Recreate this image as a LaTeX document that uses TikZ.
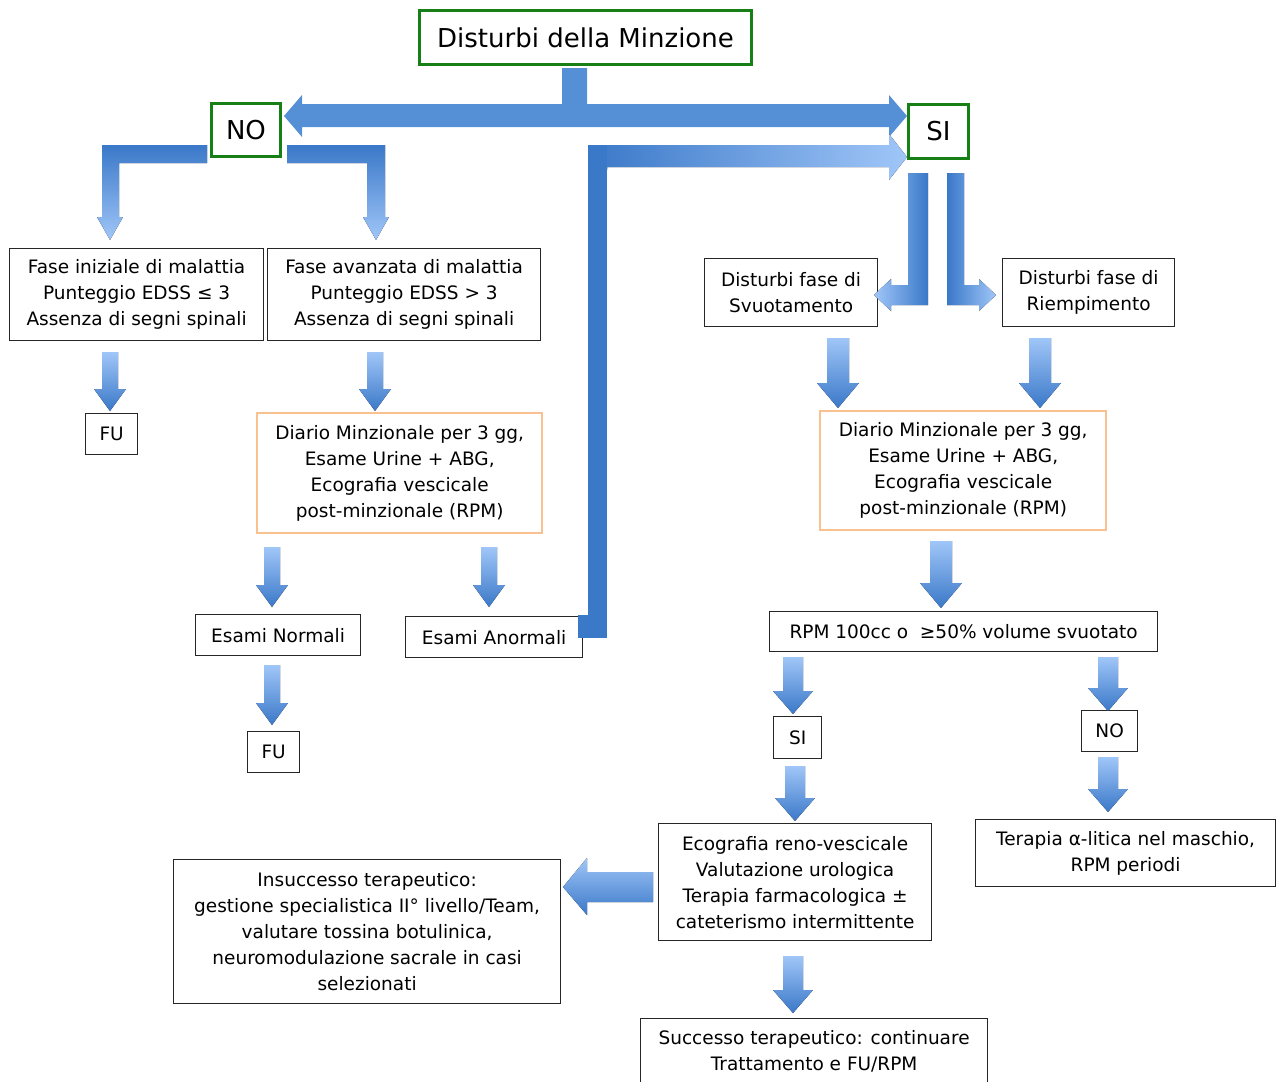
\documentclass[tikz,border=0pt]{standalone}
\usepackage{fontspec}
\setmainfont{DejaVu Sans}
\definecolor{bdark}{RGB}{58,120,200}
\definecolor{blight}{RGB}{160,198,248}
\definecolor{bmid}{RGB}{85,144,214}
\definecolor{gbord}{RGB}{22,128,22}
\definecolor{obord}{RGB}{249,192,144}
\newcommand\bodyfont{\fontsize{18.5}{26}\selectfont}
% down arrow: x, ytop, ytip, half body, half head, head length
\newcommand\darr[6]{%
  \fill[varr] ({#1-#4},#2) -- ({#1+#4},#2) -- ({#1+#4},{#3-#6}) -- ({#1+#5},{#3-#6})
    -- (#1,#3) -- ({#1-#5},{#3-#6}) -- ({#1-#4},{#3-#6}) -- cycle;}
\tikzset{
  box/.style={draw=black!85, line width=1.2pt, fill=white, align=center, font=\bodyfont,
    inner sep=0pt, anchor=north west, text=black},
  obox/.style={box, draw=obord, line width=2.4pt},
  gbox/.style={box, draw=gbord, line width=3pt, font=\fontsize{26}{30}\selectfont},
  varr/.style={top color=blight, bottom color=bdark, draw=none},
}
\begin{document}
\begin{tikzpicture}[x=1pt,y=-1pt]
\useasboundingbox (0,0) rectangle (1276,1081);
\fill[white] (0,0) rectangle (1276,1081);

% ---- nodes ----
\node[gbox, minimum width=332pt, minimum height=54pt] (title) at (418,9) {Disturbi della Minzione};
\node[gbox, minimum width=69pt, minimum height=53pt] (no) at (210,102) {NO};
\node[gbox, minimum width=60pt, minimum height=54pt] (si) at (907,103) {SI};

\node[box, minimum width=254pt, minimum height=92pt] (fa) at (9,248) {Fase iniziale di malattia\\Punteggio EDSS ≤ 3\\Assenza di segni spinali};
\node[box, minimum width=273pt, minimum height=92pt] (fb) at (267,248) {Fase avanzata di malattia\\Punteggio EDSS > 3\\Assenza di segni spinali};
\node[box, minimum width=52pt, minimum height=41pt] (fu1) at (85,413) {FU};
\node[obox, minimum width=285pt, minimum height=120pt] (dl) at (256,412) {Diario Minzionale per 3 gg,\\Esame Urine + ABG,\\Ecografia vescicale\\post-minzionale (RPM)};
\node[box, minimum width=165pt, minimum height=41pt] (en) at (195,614) {Esami Normali};
\node[box, minimum width=177pt, minimum height=41pt] (ea) at (405,616) {Esami Anormali};
\node[box, minimum width=52pt, minimum height=41pt] (fu2) at (247,731) {FU};

\node[box, minimum width=173pt, minimum height=68pt] (sv) at (704,258) {Disturbi fase di\\Svuotamento};
\node[box, minimum width=172pt, minimum height=68pt] (ri) at (1002,258) {Disturbi fase di\\Riempimento};
\node[obox, minimum width=286pt, minimum height=119pt] (dr) at (819,410) {Diario Minzionale per 3 gg,\\Esame Urine + ABG,\\Ecografia vescicale\\post-minzionale (RPM)};
\node[box, minimum width=388pt, minimum height=40pt] (rpm) at (769,611) {RPM 100cc o\ \ ≥50\% volume svuotato};
\node[box, minimum width=48pt, minimum height=42pt] (si2) at (773,716) {SI};
\node[box, minimum width=56pt, minimum height=41pt] (no2) at (1081,710) {NO};
\node[box, minimum width=273pt, minimum height=117pt] (eco) at (658,823) {Ecografia reno-vescicale\\Valutazione urologica\\Terapia farmacologica ±\\cateterismo intermittente};
\node[box, minimum width=300pt, minimum height=67pt] (ter) at (975,819) {Terapia α-litica nel maschio,\\RPM periodi};
\node[box, minimum width=387pt, minimum height=144pt] (ins) at (173,859) {Insuccesso terapeutico:\\gestione specialistica II° livello/Team,\\valutare tossina botulinica,\\neuromodulazione sacrale in casi\\selezionati};
\node[box, minimum width=347pt, minimum height=66pt] (suc) at (640,1018) {Successo terapeutico: continuare\\Trattamento e FU/RPM};

% ---- block connectors ----
% title -> NO / SI
\fill[bmid] (284,116) -- (302,95) -- (302,104) -- (562,104) -- (562,68) -- (587,68) -- (587,104)
  -- (889,104) -- (889,95) -- (907,116) -- (889,137) -- (889,127) -- (302,127) -- (302,137) -- cycle;
% NO -> fa, fb
\fill[top color=bdark, bottom color=blight] (207,145) -- (102,145) -- (102,217) -- (97,217) -- (110,240)
  -- (123,217) -- (119,217) -- (119,163) -- (207,163) -- cycle;
\fill[top color=bdark, bottom color=blight] (287,145) -- (385,145) -- (385,217) -- (389,217) -- (376,240)
  -- (363,217) -- (367,217) -- (367,163) -- (287,163) -- cycle;
% left branch arrows
\darr{110}{352}{411}{8}{16}{22}
\darr{375}{352}{411}{8}{16}{22}
\darr{272}{547}{607}{8}{16}{22}
\darr{489}{547}{607}{8}{16}{22}
\darr{272}{665}{725}{8}{16}{22}
% Esami Anormali -> SI
\fill[left color=bdark, right color=blight] (588,145) -- (889,145) -- (889,134) -- (907,157) -- (889,180)
  -- (889,167) -- (607,167) -- (607,170) -- (588,170) -- cycle;
\fill[bdark] (588,145) rectangle (607,638);
\fill[bdark] (578,615) rectangle (607,638);
% SI -> Svuotamento / Riempimento
\fill[left color=blight, right color=bdark] (908,173) -- (928,173) -- (928,305) -- (891,305) -- (891,311)
  -- (874,295) -- (891,279) -- (891,285) -- (908,285) -- cycle;
\fill[left color=bdark, right color=blight] (947,173) -- (964,173) -- (964,285) -- (979,285) -- (979,279)
  -- (996,295) -- (979,311) -- (979,305) -- (947,305) -- cycle;
% right branch arrows
\darr{838}{338}{408}{11}{21}{25}
\darr{1040}{338}{408}{11}{21}{25}
\darr{941}{541}{608}{11}{21}{25}
\darr{793}{657}{714}{10}{20}{23}
\darr{1108}{657}{711}{10}{20}{23}
\darr{795}{766}{821}{10}{20}{23}
\darr{1108}{757}{812}{10}{20}{23}
\darr{793}{956}{1013}{10}{20}{23}
% Ecografia -> Insuccesso
\fill[top color=blight, bottom color=bdark] (653,872) -- (587,872) -- (587,858) -- (563,887) -- (587,915)
  -- (587,902) -- (653,902) -- cycle;
\end{tikzpicture}
\end{document}
